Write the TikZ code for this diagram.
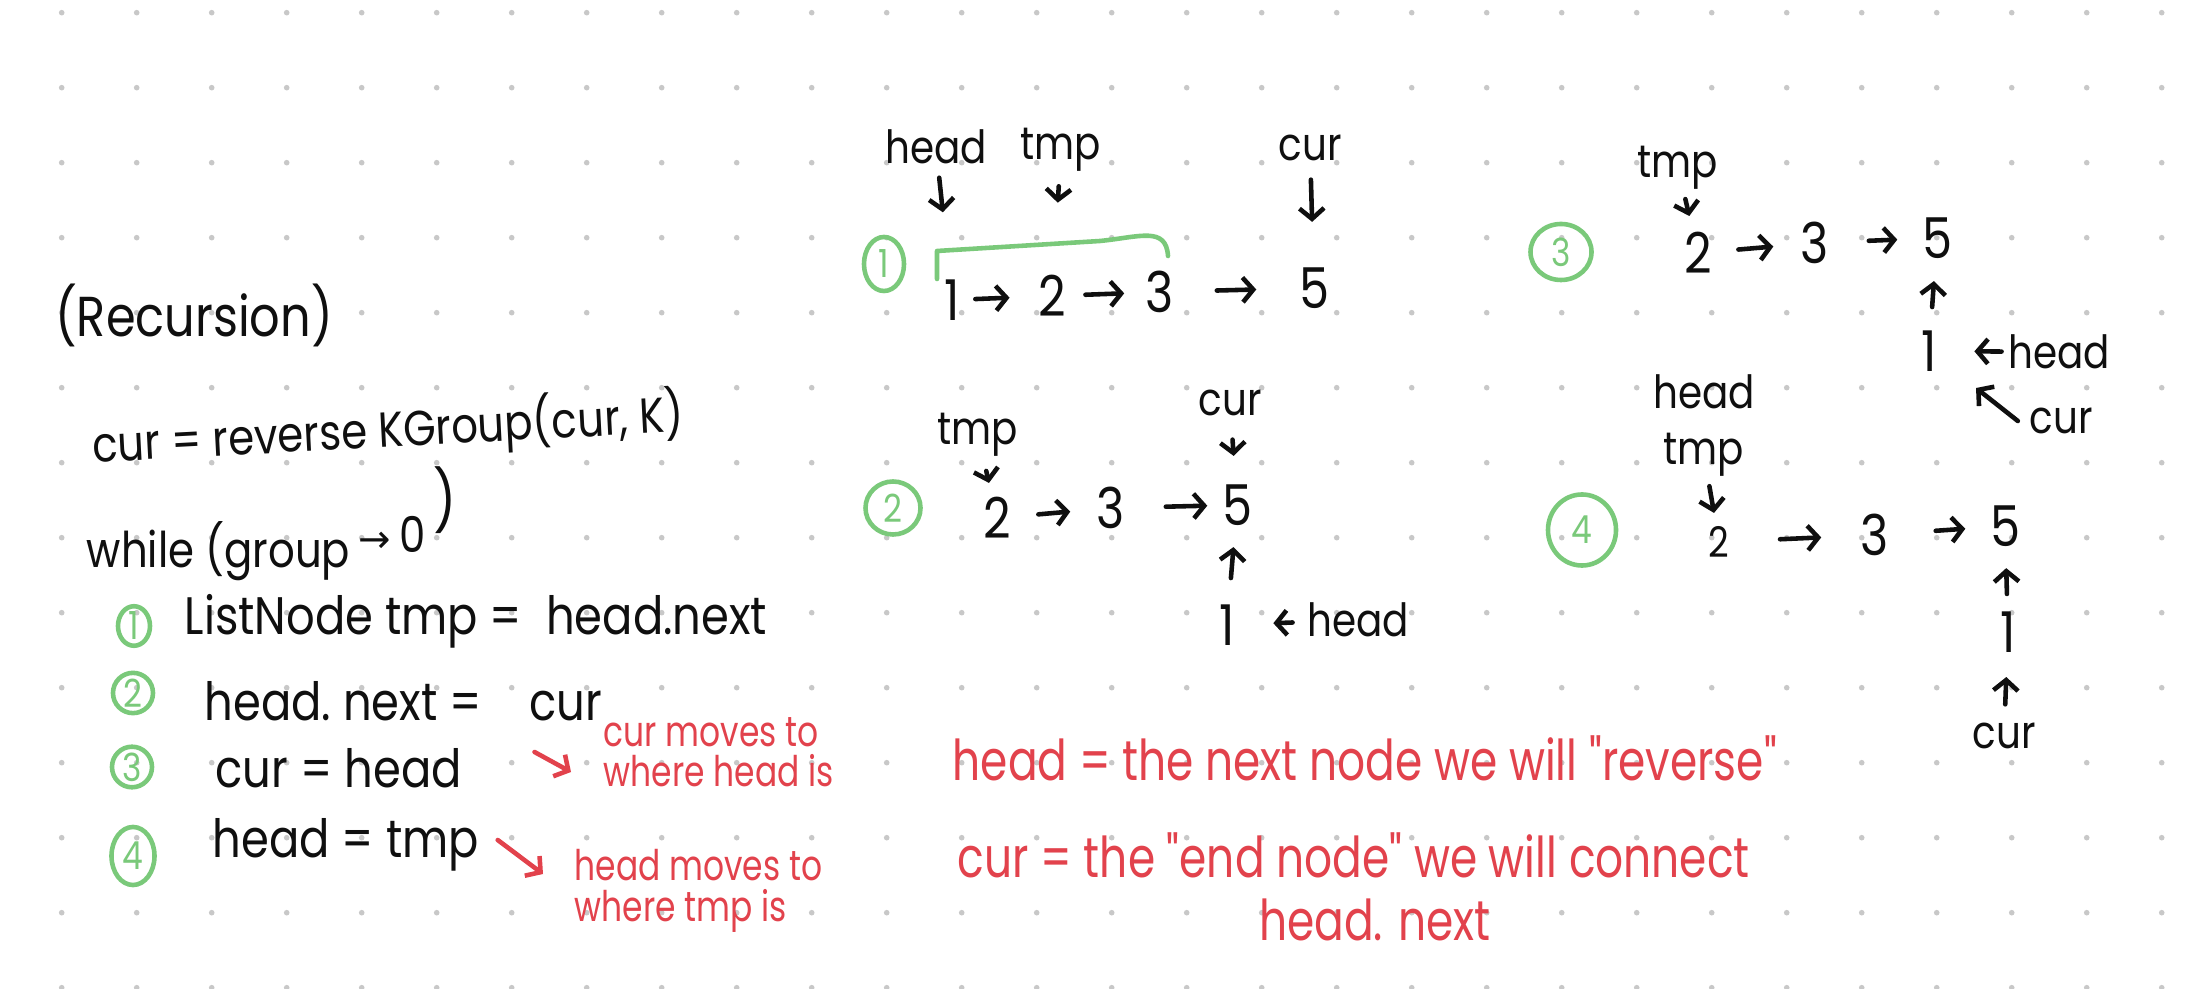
\documentclass[tikz,border=0pt]{standalone}
\usepackage{fontspec}
\setmainfont{Poppins}
\newfontfamily\hb[FakeStretch=0.85]{Poppins}
\newfontfamily\hr[FakeStretch=0.78]{Poppins}
\newfontfamily\sym{DejaVu Sans}
\usetikzlibrary{arrows.meta,shapes.geometric,calc}
\definecolor{ink}{RGB}{15,15,15}
\definecolor{pen}{RGB}{226,66,76}
\definecolor{grn}{RGB}{122,201,122}
\definecolor{dotc}{RGB}{200,200,200}
\tikzset{
  tx/.style={inner sep=0pt, text=ink, font=\hb\fontsize{14}{16}\selectfont},
  itm/.style={inner sep=0pt, text=ink, anchor=west, font=\hb\fontsize{15}{17}\selectfont},
  lab/.style={inner sep=0pt, text=ink, font=\hb\fontsize{13}{15}\selectfont},
  num/.style={inner sep=0pt, text=ink, font=\hb\fontsize{16}{18}\selectfont},
  rtx/.style={inner sep=0pt, text=pen, align=left, font=\hr\fontsize{16}{18}\selectfont},
  rsm/.style={inner sep=0pt, text=pen, align=left, font=\hr\fontsize{12}{11.5}\selectfont},
  gc/.style={ellipse, draw=grn, line width=1.3pt, text=grn, inner sep=0pt, font=\hb\fontsize{11}{12}\selectfont},
  dar/.style={draw=ink, line width=1.3pt, line cap=round, -{Straight Barb[length=3pt,width=7pt]}},
  rar/.style={dar, draw=pen},
  brk/.style={draw=grn, line width=1.3pt, line cap=round, line join=round}
}
\begin{document}
\begin{tikzpicture}[x=0.01cm, y=-0.01cm]
\fill[white] (0,0) rectangle (2188,989);
\useasboundingbox (0,0) rectangle (2188,989);
\foreach \i in {0,...,28}{\foreach \j in {0,...,13}{
  \fill[dotc] (61.7+75*\i, 12.7+75*\j) circle[radius=0.028cm];}}

% ---------- left column ----------
\node[tx, font=\hb\fontsize{16}{18}\selectfont] (rec) at (194,315) {(Recursion)};
\node[tx, anchor=west, rotate=3] (l1) at (92,446) {cur = reverse KGroup(cur, K)};
\node[tx, anchor=base west] (l2) at (86,568) {while (group\,\raisebox{4.5pt}{{\sym\fontsize{11}{12}\selectfont →}\,0}\,\raisebox{13pt}{\fontsize{17}{17}\selectfont )}};

\node[gc, minimum width=0.32cm, minimum height=0.38cm] (g1) at (134,626) {1};
\node[gc, minimum width=0.40cm, minimum height=0.37cm] (g2) at (133,693) {2};
\node[gc, minimum width=0.40cm, minimum height=0.39cm] (g3) at (132,767) {3};
\node[gc, minimum width=0.43cm, minimum height=0.58cm] (g4) at (133,856) {4};

\node[itm] (t1) at (184,621) {ListNode\ tmp =\ \ head.next};
\node[itm] (t2) at (204,701) {head.\ next =\ \ \ \ cur};
\node[itm] (t3) at (215,768) {cur =\ head};
\node[itm] (t4) at (212,845) {head = tmp};

\node[rsm, anchor=west] (n1) at (603,752) {cur moves to\\where head is};
\node[rsm, anchor=west] (n2) at (574,891) {head moves to\\where tmp is};
\draw[rar] ($(t3.east)+(72,-16)$) -- ($(n1.west)+(-32,20)$);
\draw[rar] ($(t4.east)+(18,-5)$) -- ($(n2.west)+(-31,-17)$);

% ---------- stage 1 ----------
\node[gc, minimum width=0.40cm, minimum height=0.54cm] (s1) at (884,264) {1};
\node[num] (a1) at (952,300) {1};
\node[num] (a2) at (1052,296) {2};
\node[num] (a3) at (1160,292) {3};
\node[num] (a5) at (1314,288) {5};
\node[lab] (hd1) at (936,147) {head};
\node[lab] (tp1) at (1061,150) {tmp};
\node[lab] (cu1) at (1310,148) {cur};
\draw[dar, shorten <=0.13cm, shorten >=0.67cm] (hd1) -- (a1);
\draw[dar, shorten <=0.14cm, shorten >=0.72cm] (tp1) -- (a2);
\draw[dar, shorten <=0.18cm, shorten >=0.45cm] (cu1) -- (a5);
\draw[dar, shorten <=0.15cm, shorten >=0.28cm] (a1) -- (a2);
\draw[dar, shorten <=0.19cm, shorten >=0.21cm] (a2) -- (a3);
\draw[dar, shorten <=0.42cm, shorten >=0.42cm] (a3) -- (a5);
\draw[brk] (937,279) -- (937,251) -- (1100,241) .. controls (1140,237) and (1166,226) .. (1168,256);

% ---------- stage 2 ----------
\node[gc, minimum width=0.55cm, minimum height=0.53cm] (s2) at (893,508) {2};
\node[num] (b2) at (997,518) {2};
\node[num] (b3) at (1111,508) {3};
\node[num] (b5) at (1237,505) {5};
\node[num] (b1) at (1227,625) {1};
\node[lab] (cu2) at (1230,403) {cur};
\node[lab] (tp2) at (978,435) {tmp};
\node[lab] (hd2) at (1358,620) {head};
\draw[dar, shorten <=0.23cm, shorten >=0.28cm] (cu2) -- (b5);
\draw[dar, shorten <=0.14cm, shorten >=0.14cm] (tp2) -- (b2);
\draw[dar, shorten <=0.27cm, shorten >=0.26cm] (b2) -- (b3);
\draw[dar, shorten <=0.40cm, shorten >=0.14cm] (b3) -- (b5);
\draw[dar, shorten <=0.26cm, shorten >=0.21cm] (b1) -- (b5);
\draw[dar, shorten <=0.14cm, shorten >=0.38cm] (hd2) -- (b1);

% ---------- stage 3 ----------
\node[gc, minimum width=0.61cm, minimum height=0.56cm] (s3) at (1561,252) {3};
\node[num] (c2) at (1698,253) {2};
\node[num] (c3) at (1815,243) {3};
\node[num] (c5) at (1937,238) {5};
\node[num] (c1) at (1929,351) {1};
\node[lab] (tp3) at (1678,168) {tmp};
\node[lab] (hd3) at (2059,352) {head};
\node[lab] (cu3) at (2061,421) {cur};
\coordinate (cu3tip) at (1976,388);
\draw[dar, shorten <=0.09cm, shorten >=0.16cm] (tp3) -- (c2);
\draw[dar, shorten <=0.26cm, shorten >=0.27cm] (c2) -- (c3);
\draw[dar, shorten <=0.39cm, shorten >=0.24cm] (c3) -- (c5);
\draw[dar, shorten <=0.23cm, shorten >=0.22cm] (c1) -- (c5);
\draw[dar, shorten <=0.06cm, shorten >=0.37cm] (hd3) -- (c1);
\draw[dar] ([xshift=-0.11cm]cu3.west) -- (cu3tip);

% ---------- stage 4 ----------
\node[gc, minimum width=0.68cm, minimum height=0.71cm] (s4) at (1582,530) {4};
\node[num, font=\hb\fontsize{12}{14}\selectfont] (d2) at (1719,542) {2};
\node[num] (d3) at (1875,535) {3};
\node[num] (d5) at (2005,526) {5};
\node[num] (d1) at (2008,632) {1};
\node[lab] (hd4) at (1704,392) {head};
\node[lab] (tp4) at (1704,455) {tmp};
\node[lab] (cu4) at (2004,736) {cur};
\draw[dar, shorten <=0.09cm, shorten >=0.13cm] (tp4) -- (d2);
\draw[dar, shorten <=0.50cm, shorten >=0.39cm] (d2) -- (d3);
\draw[dar, shorten <=0.46cm, shorten >=0.24cm] (d3) -- (d5);
\draw[dar, shorten <=0.17cm, shorten >=0.21cm] (d1) -- (d5);
\draw[dar, shorten <=0.18cm, shorten >=0.24cm] (cu4) -- (d1);

% ---------- red notes ----------
\node[rtx, anchor=west] (r1) at (952,758) {head = the next node we will "reverse"};
\node[rtx, anchor=west] (r2) at (957,855) {cur = the "end node" we will\ connect};
\node[rtx] (r3) at (1375,920) {head. next};
\end{tikzpicture}
\end{document}
